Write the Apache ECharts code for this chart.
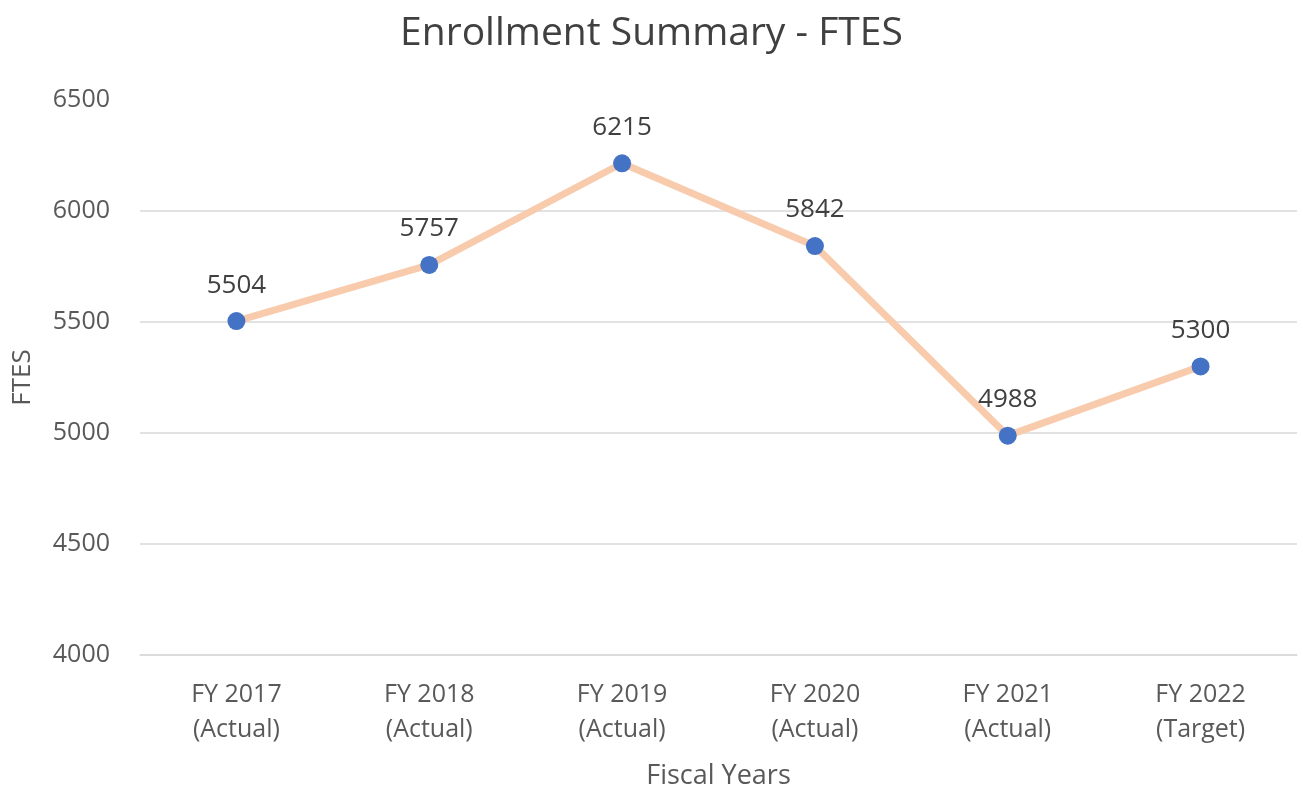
<!DOCTYPE html>
<html>
<head>
<meta charset="utf-8">
<title>Enrollment Summary - FTES</title>
<script src="https://cdn.jsdelivr.net/npm/echarts@6/dist/echarts.min.js"></script>
<style>
  html, body { margin: 0; padding: 0; background: #fff; }
  #chart { width: 1303px; height: 789px; }
</style>
</head>
<body>
<div id="chart"></div>
<script>
// chart data
const categories = ['FY 2017\n(Actual)', 'FY 2018\n(Actual)', 'FY 2019\n(Actual)', 'FY 2020\n(Actual)', 'FY 2021\n(Actual)', 'FY 2022\n(Target)'];
const ftes = [5504, 5757, 6215, 5842, 4988, 5300];
const yTicks = [4000, 4500, 5000, 5500, 6000, 6500];

const font = '"Open Sans", "Noto Sans", sans-serif';
const myChart = echarts.init(document.getElementById('chart'));

const option = {
  animation: false,
  textStyle: { fontFamily: font },
  title: {
    text: 'Enrollment Summary - FTES',
    left: 'center',
    top: 9,
    textStyle: { fontFamily: font, fontSize: 39, fontWeight: 'normal', color: '#404040' }
  },
  grid: { left: 140, right: 6, top: 100, bottom: 134, outerBoundsMode: 'none' },
  xAxis: {
    type: 'category',
    data: categories,
    name: 'Fiscal Years',
    nameLocation: 'middle',
    nameGap: 108,
    nameTextStyle: { fontFamily: font, fontSize: 27, color: '#595959' },
    axisLine: { show: true, lineStyle: { color: '#d9d9d9', width: 1.5 } },
    axisTick: { show: false },
    axisLabel: {
      fontFamily: font, fontSize: 25, color: '#595959',
      lineHeight: 35, margin: 22
    }
  },
  yAxis: {
    type: 'value',
    min: yTicks[0],
    max: yTicks[yTicks.length - 1],
    interval: 500,
    name: 'FTES',
    nameLocation: 'middle',
    nameGap: 104,
    nameTextStyle: { fontFamily: font, fontSize: 26, color: '#595959' },
    axisLine: { show: false },
    axisTick: { show: false },
    axisLabel: {
      fontFamily: font, fontSize: 25, color: '#595959', margin: 30,
      formatter: function (v) { return String(v); }
    },
    splitLine: {
      lineStyle: {
        color: ['#d9d9d9', '#d9d9d9', '#d9d9d9', '#d9d9d9', '#d9d9d9', 'rgba(0,0,0,0)'],
        width: 1.5
      }
    }
  },
  series: [
    {
      type: 'line',
      data: ftes,
      symbol: 'circle',
      symbolSize: 18,
      itemStyle: { color: '#4472c4' },
      lineStyle: { color: '#f8cbad', width: 7 },
      label: {
        show: true,
        position: 'top',
        distance: 14,
        fontFamily: font,
        fontSize: 26,
        color: '#404040'
      },
      z: 3
    }
  ]
};

myChart.setOption(option);
</script>
</body>
</html>
